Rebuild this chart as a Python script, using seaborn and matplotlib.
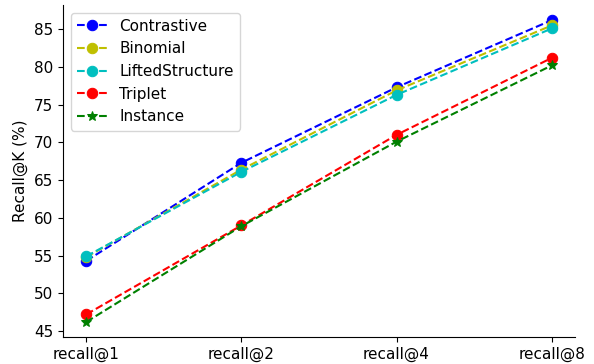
import numpy as np
import pandas as pd
import seaborn as sns
import matplotlib
matplotlib.use("Agg")
import matplotlib.pyplot as plt

ks = ['recall@1', 'recall@2', 'recall@4', 'recall@8']
contrastive = [54.3, 67.3, 77.3, 86.2]
binomial = [54.8, 66.4, 76.9, 85.5]
lifted = [54.9, 66.1, 76.3, 85.1]
triplet = [47.2, 59.0, 71.0, 81.2]
instance = [46.2, 58.9, 70.1, 80.2]

series = [
    ('Contrastive', contrastive, 'b', 'o'),
    ('Binomial', binomial, 'y', 'o'),
    ('LiftedStructure', lifted, 'c', 'o'),
    ('Triplet', triplet, 'r', 'o'),
    ('Instance', instance, 'g', '*'),
]

sns.set_style("ticks")
plt.rcParams['font.family'] = ['DejaVu Sans']
plt.rcParams['text.color'] = 'black'
plt.rcParams['axes.labelcolor'] = 'black'
plt.rcParams['xtick.color'] = 'black'
plt.rcParams['ytick.color'] = 'black'

fig, ax = plt.subplots(figsize=(5.94, 3.64), dpi=100)
for name, vals, col, mk in series:
    df = pd.DataFrame({'k': ks, 'v': vals})
    sns.lineplot(data=df, x='k', y='v', ax=ax, color=col, marker=mk,
                 linestyle='--', linewidth=1.5, markersize=7.5,
                 markeredgecolor=col, label=name, sort=False)

ax.set_xlabel('')
ax.set_ylabel('Recall@K (%)', fontsize=11)
ax.set_xlim(-0.15, 3.15)
ax.set_ylim(44.2, 88.2)
ax.set_yticks([45, 50, 55, 60, 65, 70, 75, 80, 85])
ax.tick_params(labelsize=11, direction='out', length=3.5, colors='black')
for s in ['left', 'bottom']:
    ax.spines[s].set_color('black')
    ax.spines[s].set_linewidth(0.8)
sns.despine(ax=ax)
leg = ax.legend(loc='upper left', fontsize=11, frameon=True)
fig.subplots_adjust(left=0.106, right=0.968, bottom=0.074, top=0.986)
fig.savefig('out.png', dpi=100)
